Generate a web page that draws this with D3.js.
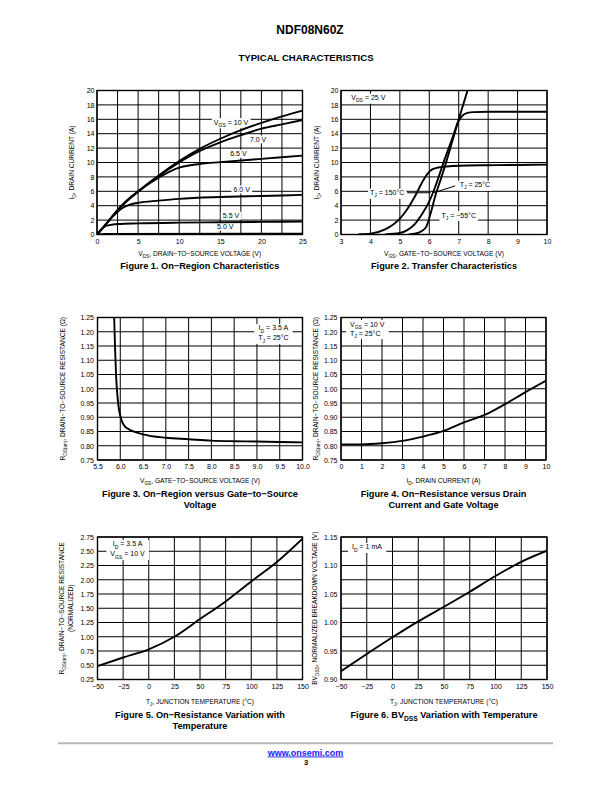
<!DOCTYPE html>
<html><head><meta charset="utf-8">
<script src="https://cdn.jsdelivr.net/npm/d3@7"></script>
<style>
body{margin:0;background:#fff;}
svg text{font-family:"Liberation Sans", Arial, Helvetica, sans-serif;fill:#000;}
</style></head>
<body>
<svg id="page" width="612" height="792"></svg>
<script>
// ---------- DATA ----------
// Figure 1: On-Region Characteristics (ID vs VDS)
const F1_VDS = [0,1,2.5,5,7.5,10,12.5,15,17.5,20,22.5,25];
const F1_ID_10V = [0,1.3,3.4,6.0,8.2,10.2,11.9,13.3,14.5,15.5,16.4,17.2];
const F1_ID_7V = [0,1.3,3.4,5.95,8.1,10.0,11.6,12.8,13.8,14.7,15.3,15.9];
const F1_VDS_65 = [0,1,2.5,4,5,6,7.5,10,12.5,15,20,25];
const F1_ID_65V = [0,1.3,3.4,5.1,5.95,6.8,7.9,9.3,9.8,10.05,10.5,10.95];
const F1_VDS_6 = [0,1,2,3,3.5,4,5,7.5,10,15,20,25];
const F1_ID_6V = [0,1.3,2.6,3.6,3.95,4.15,4.4,4.7,4.95,5.2,5.35,5.5];
const F1_VDS_55 = [0,0.5,1,1.5,2.5,5,10,15,20,25];
const F1_ID_55V = [0,0.7,1.15,1.3,1.45,1.55,1.65,1.7,1.75,1.8];
const F1_VDS_5 = [0,1,25];
const F1_ID_5V = [0,0.08,0.12];
const F1_X_TICKS = [0,5,10,15,20,25];
const F1_Y_TICKS = [0,2,4,6,8,10,12,14,16,18,20];

// Figure 2: Transfer Characteristics (ID vs VGS)
const F2_VGS_150 = [3.6,4,4.5,5,5.25,5.5,5.75,5.95,6.1,6.3,6.6,7,8,9,10];
const F2_ID_150 = [0.03,0.12,0.7,2.2,3.5,5.2,7.2,8.5,9.05,9.3,9.45,9.55,9.62,9.66,9.7];
const F2_VGS_25 = [4.5,5,5.25,5.5,5.75,6,6.2,6.5,6.75,7,7.15,7.3,7.5,8,10];
const F2_ID_25 = [0.02,0.2,0.6,1.4,2.8,4.6,6.6,10.2,13.0,15.8,16.6,16.9,17.0,17.05,17.05];
const F2_VGS_M55 = [5.3,5.5,5.75,5.9,6.05,6.2,6.4,6.6,6.8,7.0,7.15,7.3,7.4];
const F2_ID_M55 = [0.02,0.1,0.5,1.1,3.0,5.3,7.8,10.4,13.2,16.0,18.0,20.0,21.4];
const F2_X_TICKS = [3,4,5,6,7,8,9,10];
const F2_Y_TICKS = [0,2,4,6,8,10,12,14,16,18,20];

// Figure 3: RDS(on) vs VGS
const F3_VGS = [5.866,5.89,5.91,5.93,5.96,6.0,6.05,6.1,6.2,6.5,7.0,7.5,8.0,8.5,9.0,9.5,10];
const F3_RDS = [1.25,1.12,1.04,0.99,0.94,0.905,0.88,0.868,0.857,0.840,0.828,0.823,0.818,0.816,0.815,0.813,0.812];
const F3_X_TICKS = [5.5,6.0,6.5,7.0,7.5,8.0,8.5,9.0,9.5,10.0];
const F3_Y_TICKS = [0.75,0.80,0.85,0.90,0.95,1.00,1.05,1.10,1.15,1.20,1.25];

// Figure 4: RDS(on) vs ID
const F4_ID = [0,1,2,3,4,5,6,7,8,9,10];
const F4_RDS = [0.805,0.805,0.809,0.817,0.832,0.852,0.882,0.908,0.946,0.988,1.028];
const F4_X_TICKS = [0,1,2,3,4,5,6,7,8,9,10];
const F4_Y_TICKS = [0.75,0.80,0.85,0.90,0.95,1.00,1.05,1.10,1.15,1.20,1.25];

// Figure 5: normalized RDS(on) vs TJ
const F5_TJ = [-50,-25,0,25,50,75,100,125,150];
const F5_RDS = [0.484,0.636,0.78,1.0,1.31,1.62,1.97,2.31,2.72];
const F5_X_TICKS = [-50,-25,0,25,50,75,100,125,150];
const F5_Y_TICKS = [0.25,0.50,0.75,1.00,1.25,1.50,1.75,2.00,2.25,2.50,2.75];

// Figure 6: normalized BVDSS vs TJ
const F6_TJ = [-50,-25,0,25,50,75,100,125,150];
const F6_BV = [0.9145,0.9447,0.974,1.002,1.0276,1.054,1.0816,1.1065,1.126];
const F6_X_TICKS = [-50,-25,0,25,50,75,100,125,150];
const F6_Y_TICKS = [0.90,0.95,1.00,1.05,1.10,1.15];

// ---------- DRAWING ----------
const svg = d3.select('#page');
const FF = '"Liberation Sans", Arial, Helvetica, sans-serif';
const TICK_FS = 7, AX_FS = 6.6, CAP_FS = 9.2;

function rich(textSel, parts, fs) {
  let shift = 0;
  parts.forEach(p => {
    const sub = p[1];
    const target = sub ? fs * 0.3 : 0;
    const t = textSel.append('tspan').text(p[0]).attr('dy', target - shift);
    if (sub) t.attr('font-size', fs * 0.72);
    shift = target;
  });
}

let clipId = 0;
function drawChart(o) {
  const g = svg.append('g');
  const x = d3.scaleLinear().domain(o.xDomain).range([o.left, o.right]);
  const y = d3.scaleLinear().domain(o.yDomain).range([o.bottom, o.top]);

  // grid
  const xg = d3.range(o.xCells + 1).map(i => o.xDomain[0] + i * (o.xDomain[1] - o.xDomain[0]) / o.xCells);
  const yg = d3.range(o.yCells + 1).map(i => o.yDomain[0] + i * (o.yDomain[1] - o.yDomain[0]) / o.yCells);
  g.append('g').selectAll('line.v').data(xg).join('line')
    .attr('x1', d => x(d)).attr('x2', d => x(d)).attr('y1', o.top).attr('y2', o.bottom)
    .attr('stroke', '#000').attr('stroke-width', 1);
  g.append('g').selectAll('line.h').data(yg).join('line')
    .attr('y1', d => y(d)).attr('y2', d => y(d)).attr('x1', o.left).attr('x2', o.right)
    .attr('stroke', '#000').attr('stroke-width', 1);

  // axes (tick labels)
  const xa = g.append('g').attr('transform', `translate(0,${o.bottom})`)
    .call(d3.axisBottom(x).tickValues(o.xTicks).tickFormat(o.xFmt).tickSize(0).tickPadding(4.5));
  xa.select('.domain').remove();
  xa.attr('font-family', FF).attr('font-size', TICK_FS);
  const ya = g.append('g').attr('transform', `translate(${o.left},0)`)
    .call(d3.axisLeft(y).tickValues(o.yTicks).tickFormat(o.yFmt).tickSize(0).tickPadding(o.yPad || 2.5));
  ya.select('.domain').remove();
  ya.attr('font-family', FF).attr('font-size', TICK_FS);

  // annotation labels with white backing
  (o.labels || []).forEach(lb => {
    const lg = g.append('g');
    const rect = lg.append('rect').attr('fill', '#fff');
    lb.lines.forEach((parts, i) => {
      const t = lg.append('text').attr('x', x(lb.x)).attr('y', y(lb.y) + i * (lb.lh || 9.5) + TICK_FS * 0.35)
        .attr('font-size', TICK_FS).attr('text-anchor', lb.anchor || 'middle');
      rich(t, parts, TICK_FS);
    });
    const bb = lg.node().getBBox();
    const p = lb.pad == null ? 2 : lb.pad;
    rect.attr('x', bb.x - p).attr('y', bb.y - 0.5).attr('width', bb.width + 2 * p).attr('height', bb.height + 1);
  });
  (o.leaders || []).forEach(ld => {
    g.append('line').attr('x1', x(ld[0][0])).attr('y1', y(ld[0][1]))
      .attr('x2', x(ld[1][0])).attr('y2', y(ld[1][1])).attr('stroke', '#000').attr('stroke-width', 1);
  });

  // curves
  const cid = 'clip' + (clipId++);
  g.append('clipPath').attr('id', cid).append('rect')
    .attr('x', o.left).attr('y', o.top).attr('width', o.right - o.left).attr('height', o.bottom - o.top);
  const line = d3.line().x(d => x(d[0])).y(d => y(d[1])).curve(d3.curveMonotoneX);
  o.series.forEach(s => {
    g.append('path').datum(d3.zip(s.x, s.y)).attr('d', line)
      .attr('fill', 'none').attr('stroke', '#000').attr('stroke-width', 1.9)
      .attr('stroke-linejoin', 'round').attr('clip-path', `url(#${cid})`);
  });

  // frame
  g.append('rect').attr('x', o.left).attr('y', o.top).attr('width', o.right - o.left).attr('height', o.bottom - o.top)
    .attr('fill', 'none').attr('stroke', '#000').attr('stroke-width', 1.4);

  // x axis title
  const xt = g.append('text').attr('x', (o.left + o.right) / 2).attr('y', o.xTitleY + AX_FS * 0.35)
    .attr('text-anchor', 'middle').attr('font-size', AX_FS);
  rich(xt, o.xTitle, AX_FS);
  // y axis title(s)
  o.yTitles.forEach((parts, i) => {
    const cx = o.yTitleX[i], cy = (o.top + o.bottom) / 2;
    const yt = g.append('text').attr('transform', `translate(${cx},${cy}) rotate(-90)`)
      .attr('x', 0).attr('y', AX_FS * 0.35).attr('text-anchor', 'middle').attr('font-size', AX_FS);
    rich(yt, parts, AX_FS);
  });
  // caption
  o.caption.forEach((parts, i) => {
    const ct = g.append('text').attr('x', (o.left + o.right) / 2).attr('y', o.capY[i] + CAP_FS * 0.35)
      .attr('text-anchor', 'middle').attr('font-size', CAP_FS).attr('font-weight', 'bold');
    rich(ct, parts, CAP_FS);
  });
}

// header
svg.append('text').attr('x', 310).attr('y', 34.3).attr('text-anchor', 'middle')
  .attr('font-size', 12).attr('font-weight', 'bold').text('NDF08N60Z');
svg.append('text').attr('x', 306).attr('y', 61).attr('text-anchor', 'middle')
  .attr('font-size', 9.6).attr('font-weight', 'bold').text('TYPICAL CHARACTERISTICS');

const f0 = d3.format('d'), f1 = d3.format('.1f'), f2 = d3.format('.2f');

drawChart({
  left: 97, right: 302.5, top: 90.5, bottom: 234.5,
  xDomain: [0, 25], yDomain: [0, 20], xCells: 10, yCells: 10,
  xTicks: F1_X_TICKS, yTicks: F1_Y_TICKS, xFmt: f0, yFmt: f0,
  series: [
    {x: F1_VDS, y: F1_ID_10V}, {x: F1_VDS, y: F1_ID_7V}, {x: F1_VDS_65, y: F1_ID_65V},
    {x: F1_VDS_6, y: F1_ID_6V}, {x: F1_VDS_55, y: F1_ID_55V}, {x: F1_VDS_5, y: F1_ID_5V}
  ],
  labels: [
    {x: 16.3, y: 15.6, lines: [[['V'], ['GS', 1], [' = 10 V']]]},
    {x: 19.6, y: 13.2, lines: [[['7.0 V']]]},
    {x: 17.2, y: 11.2, lines: [[['6.5 V']]]},
    {x: 17.6, y: 6.25, lines: [[['6.0 V']]]},
    {x: 16.3, y: 2.6, lines: [[['5.5 V']]]},
    {x: 15.6, y: 1.1, lines: [[['5.0 V']]]}
  ],
  xTitle: [['V'], ['DS', 1], [', DRAIN\u2212TO\u2212SOURCE VOLTAGE (V)']], xTitleY: 254,
  yTitles: [[['I'], ['D', 1], [', DRAIN CURRENT (A)']]], yTitleX: [72],
  caption: [[['Figure 1. On\u2212Region Characteristics']]], capY: [266]
});

drawChart({
  left: 341, right: 547, top: 90.5, bottom: 234.5,
  xDomain: [3, 10], yDomain: [0, 20], xCells: 7, yCells: 10,
  xTicks: F2_X_TICKS, yTicks: F2_Y_TICKS, xFmt: f0, yFmt: f0,
  series: [
    {x: F2_VGS_150, y: F2_ID_150}, {x: F2_VGS_25, y: F2_ID_25}, {x: F2_VGS_M55, y: F2_ID_M55}
  ],
  labels: [
    {x: 3.35, y: 19.0, anchor: 'start', lines: [[['V'], ['DS', 1], [' = 25 V']]]},
    {x: 4.57, y: 5.8, lines: [[['T'], ['J', 1], [' = 150\u00B0C']]]},
    {x: 7.55, y: 6.9, lines: [[['T'], ['J', 1], [' = 25\u00B0C']]]},
    {x: 7.0, y: 2.7, lines: [[['T'], ['J', 1], [' = \u221255\u00B0C']]]}
  ],
  leaders: [[[5.25, 5.8], [6.05, 5.8]], [[6.88, 6.75], [6.15, 5.8]]],
  xTitle: [['V'], ['GS', 1], [', GATE\u2212TO\u2212SOURCE VOLTAGE (V)']], xTitleY: 254,
  yTitles: [[['I'], ['D', 1], [', DRAIN CURRENT (A)']]], yTitleX: [317],
  caption: [[['Figure 2. Transfer Characteristics']]], capY: [266]
});

drawChart({
  left: 97.5, right: 302.5, top: 317.5, bottom: 460,
  xDomain: [5.5, 10], yDomain: [0.75, 1.25], xCells: 9, yCells: 10,
  xTicks: F3_X_TICKS, yTicks: F3_Y_TICKS, xFmt: f1, yFmt: f2, yPad: 3.5,
  series: [{x: F3_VGS, y: F3_RDS}],
  labels: [
    {x: 9.36, y: 1.213, lh: 10, pad: 4, lines: [[['I'], ['D', 1], [' = 3.5 A']], [['T'], ['J', 1], [' = 25\u00B0C']]]}
  ],
  xTitle: [['V'], ['GS', 1], [', GATE\u2212TO\u2212SOURCE VOLTAGE (V)']], xTitleY: 481,
  yTitles: [[['R'], ['DS(on)', 1], [', DRAIN\u2212TO\u2212SOURCE RESISTANCE (\u03A9)']]], yTitleX: [63],
  caption: [[['Figure 3. On\u2212Region versus Gate\u2212to\u2212Source']], [['Voltage']]], capY: [494, 505]
});

drawChart({
  left: 341, right: 546, top: 317.5, bottom: 460,
  xDomain: [0, 10], yDomain: [0.75, 1.25], xCells: 10, yCells: 10,
  xTicks: F4_X_TICKS, yTicks: F4_Y_TICKS, xFmt: f0, yFmt: f2, yPad: 3.5,
  series: [{x: F4_ID, y: F4_RDS}],
  labels: [
    {x: 0.44, y: 1.227, anchor: 'start', lh: 9, pad: 4, lines: [[['V'], ['GS', 1], [' = 10 V']], [['T'], ['J', 1], [' = 25\u00B0C']]]}
  ],
  xTitle: [['I'], ['D', 1], [', DRAIN CURRENT (A)']], xTitleY: 481,
  yTitles: [[['R'], ['DS(on)', 1], [', DRAIN\u2212TO\u2212SOURCE RESISTANCE (\u03A9)']]], yTitleX: [316],
  caption: [[['Figure 4. On\u2212Resistance versus Drain']], [['Current and Gate Voltage']]], capY: [494, 505]
});

drawChart({
  left: 97.5, right: 302.5, top: 537, bottom: 679.5,
  xDomain: [-50, 150], yDomain: [0.25, 2.75], xCells: 8, yCells: 10,
  xTicks: F5_X_TICKS, yTicks: F5_Y_TICKS, xFmt: f0, yFmt: f2, yPad: 3.5,
  series: [{x: F5_TJ, y: F5_RDS}],
  labels: [
    {x: -20.7, y: 2.627, lh: 10, pad: 4, lines: [[['I'], ['D', 1], [' = 3.5 A']], [['V'], ['GS', 1], [' = 10 V']]]}
  ],
  xTitle: [['T'], ['J', 1], [', JUNCTION TEMPERATURE (\u00B0C)']], xTitleY: 702,
  yTitles: [[['R'], ['DS(on)', 1], [', DRAIN\u2212TO\u2212SOURCE RESISTANCE']], [['(NORMALIZED)']]], yTitleX: [62, 70.5],
  caption: [[['Figure 5. On\u2212Resistance Variation with']], [['Temperature']]], capY: [715, 726]
});

drawChart({
  left: 341, right: 547, top: 537, bottom: 679.5,
  xDomain: [-50, 150], yDomain: [0.90, 1.15], xCells: 8, yCells: 10,
  xTicks: F6_X_TICKS, yTicks: F6_Y_TICKS, xFmt: f0, yFmt: f2, yPad: 3.5,
  series: [{x: F6_TJ, y: F6_BV}],
  labels: [
    {x: -39.3, y: 1.1325, anchor: 'start', pad: 4, lines: [[['I'], ['D', 1], [' = 1 mA']]]}
  ],
  xTitle: [['T'], ['J', 1], [', JUNCTION TEMPERATURE (\u00B0C)']], xTitleY: 702,
  yTitles: [[['BV'], ['DSS', 1], [', NORMALIZED BREAKDOWN VOLTAGE (V)']]], yTitleX: [315],
  caption: [[['Figure 6. BV'], ['DSS', 1], [' Variation with Temperature']]], capY: [715]
});

// footer
svg.append('line').attr('x1', 58).attr('x2', 553).attr('y1', 743.3).attr('y2', 743.3)
  .attr('stroke', '#b8b8b8').attr('stroke-width', 2);
svg.append('text').attr('x', 305.5).attr('y', 755.5).attr('text-anchor', 'middle')
  .attr('font-size', 9).attr('font-weight', 'bold').attr('text-decoration', 'underline')
  .style('fill', '#1a1aff').text('www.onsemi.com');
svg.append('text').attr('x', 306).attr('y', 765).attr('text-anchor', 'middle')
  .attr('font-size', 7.5).attr('font-weight', 'bold').text('3');
</script>
</body></html>
